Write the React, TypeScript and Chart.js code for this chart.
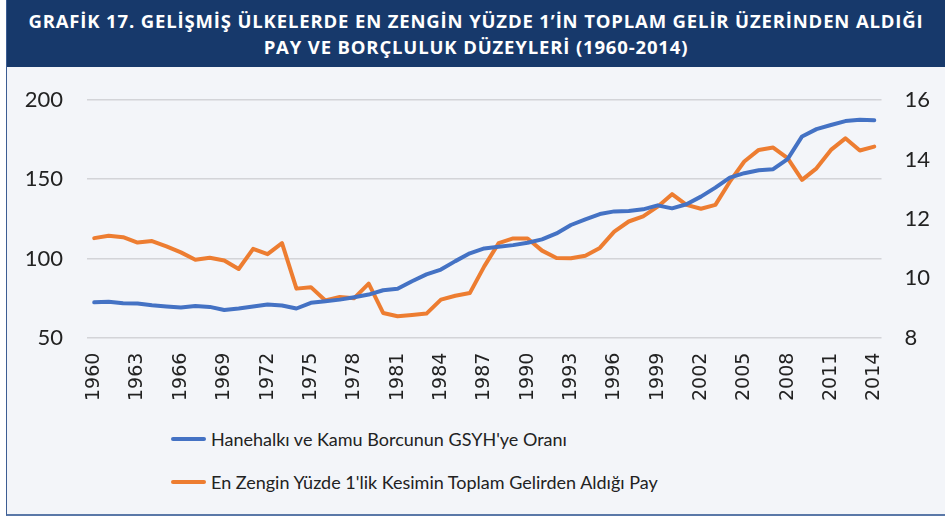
import React, { useEffect, useRef } from "react";
import { Chart, registerables } from "chart.js";

Chart.register(...registerables);

const years = [
  "1960", "1961", "1962", "1963", "1964", "1965", "1966", "1967", "1968", "1969",
  "1970", "1971", "1972", "1973", "1974", "1975", "1976", "1977", "1978", "1979",
  "1980", "1981", "1982", "1983", "1984", "1985", "1986", "1987", "1988", "1989",
  "1990", "1991", "1992", "1993", "1994", "1995", "1996", "1997", "1998", "1999",
  "2000", "2001", "2002", "2003", "2004", "2005", "2006", "2007", "2008", "2009",
  "2010", "2011", "2012", "2013", "2014",
];

const debtToGdp = [
  72.3, 72.6, 71.7, 71.5, 70.4, 69.6, 69.0, 70.0, 69.4, 67.5,
  68.4, 69.6, 70.9, 70.3, 68.4, 72.0, 73.0, 74.0, 75.5, 77.2,
  79.9, 80.8, 85.6, 89.9, 93.0, 98.3, 103.2, 106.3, 107.4, 108.4,
  109.9, 112.0, 115.8, 121.1, 124.7, 128.0, 129.7, 129.9, 131.0, 133.5,
  131.6, 134.2, 139.0, 144.7, 151.0, 153.8, 155.7, 156.3, 162.7, 177.0,
  181.6, 184.2, 186.7, 187.5, 187.2,
];

const top1Share = [
  11.35, 11.43, 11.38, 11.2, 11.25, 11.07, 10.87, 10.62, 10.69, 10.6,
  10.31, 10.99, 10.81, 11.18, 9.65, 9.7, 9.25, 9.37, 9.33, 9.82,
  8.83, 8.72, 8.76, 8.81, 9.28, 9.41, 9.5, 10.4, 11.18, 11.34,
  11.34, 10.93, 10.68, 10.67, 10.76, 11.02, 11.57, 11.91, 12.08, 12.41,
  12.83, 12.47, 12.34, 12.47, 13.25, 13.93, 14.32, 14.4, 14.04, 13.31,
  13.7, 14.32, 14.71, 14.3, 14.43,
];

const seriesNames = [
  "Hanehalkı ve Kamu Borcunun GSYH'ye Oranı",
  "En Zengin Yüzde 1'lik Kesimin Toplam Gelirden Aldığı Pay",
];
const seriesColors = ["#4472C4", "#ED7D31"];

const leftTicks = [50, 100, 150, 200];
const rightTicks = [8, 10, 12, 14, 16];

const titleLines = [
  "GRAFİK 17. GELİŞMİŞ ÜLKELERDE EN ZENGİN YÜZDE 1’İN TOPLAM GELİR ÜZERİNDEN ALDIĞI",
  "PAY VE BORÇLULUK DÜZEYLERİ (1960-2014)",
];

export default function App() {
  const canvasRef = useRef<HTMLCanvasElement | null>(null);

  useEffect(() => {
    document.body.style.margin = "0";
    const canvas = canvasRef.current;
    if (!canvas) return;
    const noVPad = (scale: any) => {
      scale.paddingTop = 0;
      scale.paddingBottom = 0;
    };
    const chart = new Chart(canvas, {
      type: "line",
      data: {
        labels: years,
        datasets: [
          {
            label: seriesNames[0],
            data: debtToGdp,
            borderColor: seriesColors[0],
            backgroundColor: seriesColors[0],
            borderWidth: 4,
            pointRadius: 0,
            tension: 0,
            borderCapStyle: "round",
            borderJoinStyle: "round",
            yAxisID: "y",
          },
          {
            label: seriesNames[1],
            data: top1Share,
            borderColor: seriesColors[1],
            backgroundColor: seriesColors[1],
            borderWidth: 4,
            pointRadius: 0,
            tension: 0,
            borderCapStyle: "round",
            borderJoinStyle: "round",
            yAxisID: "y1",
          },
        ],
      },
      options: {
        animation: false,
        responsive: false,
        maintainAspectRatio: false,
        layout: { padding: { top: 33, bottom: 10, left: 0, right: 0 } },
        plugins: {
          legend: { display: false },
          tooltip: { enabled: false },
          title: { display: false },
        },
        scales: {
          x: {
            type: "category",
            offset: true,
            grid: { display: false, drawTicks: false },
            border: { display: false },
            ticks: {
              autoSkip: false,
              minRotation: 90,
              maxRotation: 90,
              padding: 15,
              color: "#222",
              font: { family: "DejaVu Sans", size: 19 },
              callback: (_v: any, i: number) => (i % 3 === 0 ? years[i] : ""),
            },
          },
          y: {
            position: "left",
            min: leftTicks[0],
            max: leftTicks[leftTicks.length - 1],
            afterBuildTicks: (scale: any) => {
              scale.ticks = leftTicks.map((v) => ({ value: v }));
            },
            afterFit: (scale: any) => {
              scale.width = 80;
              noVPad(scale);
            },
            grid: { color: "#d3d4d8", lineWidth: 1.5, drawTicks: false },
            border: { display: false },
            ticks: {
              padding: 24,
              color: "#222",
              font: { family: "Lato", size: 22 },
            },
          },
          y1: {
            position: "right",
            min: rightTicks[0],
            max: rightTicks[rightTicks.length - 1],
            afterBuildTicks: (scale: any) => {
              scale.ticks = rightTicks.map((v) => ({ value: v }));
            },
            afterFit: (scale: any) => {
              scale.width = 63.5;
              noVPad(scale);
            },
            grid: { drawOnChartArea: false, drawTicks: false },
            border: { display: false },
            ticks: {
              padding: 23,
              color: "#222",
              font: { family: "Lato", size: 22 },
            },
          },
        },
      },
    });
    return () => chart.destroy();
  }, []);

  return (
    <div style={{ position: "relative", width: 945, height: 517, background: "#ffffff", overflow: "hidden" }}>
      <div
        style={{
          position: "absolute",
          left: 6,
          top: 0,
          right: 0,
          bottom: 1,
          background: "#F3F5F9",
          borderLeft: "1px solid #3c5d93",
          borderBottom: "2px solid #5a78a8",
        }}
      >
        <div
          style={{
            height: 67,
            background: "#17396B",
            color: "#ffffff",
            fontFamily: "'Open Sans', sans-serif",
            fontWeight: 700,
            fontSize: 18.5,
            letterSpacing: 0.85,
            lineHeight: "26px",
            textAlign: "center",
            paddingTop: 8,
            boxSizing: "border-box",
            whiteSpace: "nowrap",
          }}
        >
          <div>{titleLines[0]}</div>
          <div>{titleLines[1]}</div>
        </div>
        <div style={{ position: "absolute", left: 0, top: 67, width: 938, height: 359 }}>
          <canvas ref={canvasRef} width={938} height={359} style={{ display: "block" }} />
        </div>
        {seriesNames.map((name, i) => (
          <div
            key={name}
            style={{
              position: "absolute",
              left: 164,
              top: 426 + i * 43,
              height: 26,
              display: "flex",
              alignItems: "center",
              fontFamily: "Lato, sans-serif",
              fontSize: 18,
              color: "#222",
              whiteSpace: "nowrap",
            }}
          >
            <span
              style={{
                display: "inline-block",
                width: 35,
                height: 4,
                borderRadius: 2,
                background: seriesColors[i],
                marginRight: 5,
              }}
            />
            <span>{name}</span>
          </div>
        ))}
      </div>
    </div>
  );
}
